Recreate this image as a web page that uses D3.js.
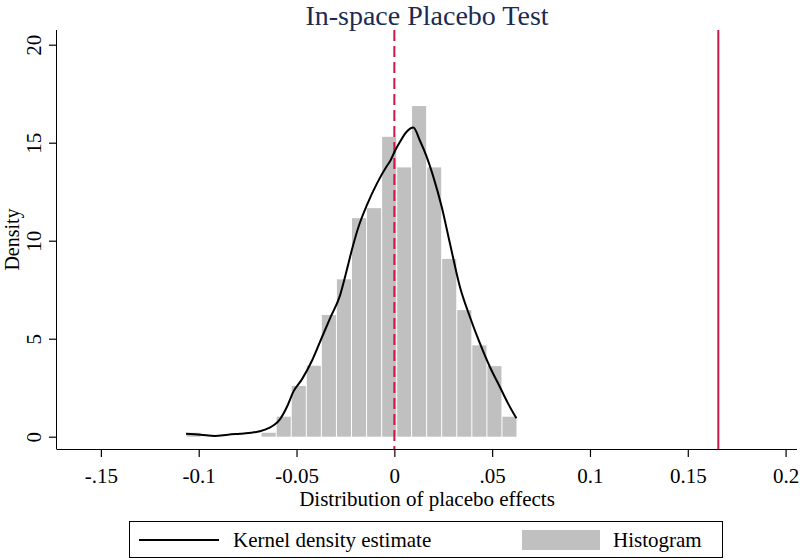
<!DOCTYPE html>
<html>
<head>
<meta charset="utf-8">
<script src="https://cdn.jsdelivr.net/npm/d3@7"></script>
<style>
  html, body { margin: 0; padding: 0; background: #fff; }
  svg { display: block; }
  text { font-family: "Liberation Serif", "Times New Roman", serif; }
</style>
</head>
<body>
<svg id="chart" width="800" height="560"></svg>
<script>
// ---------- data ----------
const binLeft = [-0.1065, -0.0988, -0.0911, -0.0834, -0.0758, -0.0681, -0.0604, -0.0527, -0.0450, -0.0373, -0.0296,
                 -0.0219, -0.0142, -0.0065, 0.0012, 0.0088, 0.0165, 0.0242, 0.0319, 0.0396, 0.0473, 0.0550];
const binRight = [-0.0988, -0.0911, -0.0834, -0.0758, -0.0681, -0.0604, -0.0527, -0.0450, -0.0373, -0.0296, -0.0219,
                  -0.0142, -0.0065, 0.0012, 0.0088, 0.0165, 0.0242, 0.0319, 0.0396, 0.0473, 0.0550, 0.0627];
const binDensity = [0.2, 0, 0, 0, 0, 0.2, 1.02, 2.59, 3.62, 6.21, 8.03,
                    11.15, 11.66, 15.3, 13.74, 16.87, 13.74, 9.07, 6.46, 4.66, 3.6, 1.02];

const kdeX = [-0.1065, -0.0990, -0.0917, -0.0850, -0.0789, -0.0730, -0.0687, -0.0640, -0.0610, -0.0584, -0.0550, -0.0516,
              -0.0471, -0.0420, -0.0369, -0.0326, -0.0278, -0.0243, -0.0218, -0.0180, -0.0141, -0.0090, -0.0039, -0.0022,
              0.0004, 0.0029, 0.0063, 0.0097, 0.0131, 0.0165, 0.0199, 0.0242, 0.0284, 0.0335, 0.0386, 0.0437,
              0.0488, 0.0539, 0.0581, 0.0624];
const kdeY = [0.15, 0.10, 0.03, 0.10, 0.15, 0.20, 0.28, 0.45, 0.63, 0.90, 1.50, 2.30,
              2.95, 3.90, 5.10, 6.10, 7.20, 8.50, 9.50, 10.80, 11.80, 12.90, 13.80, 14.05,
              14.60, 15.05, 15.56, 15.77, 15.10, 14.29, 13.27, 11.73, 9.87, 7.65, 6.12, 4.77,
              3.57, 2.55, 1.70, 0.94];

const xTickValues = [-0.15, -0.1, -0.05, 0, 0.05, 0.1, 0.15, 0.2];
const xTickLabels = ["-.15", "-0.1", "-0.05", "0", ".05", "0.1", "0.15", "0.2"];
const yTickValues = [0, 5, 10, 15, 20];
const yTickLabels = ["0", "5", "10", "15", "20"];

const zeroLine = 0;
const treatedEffect = 0.1656;

const titleText = "In-space Placebo Test";
const xTitle = "Distribution of placebo effects";
const yTitle = "Density";
const legendLabels = ["Kernel density estimate", "Histogram"];

// ---------- layout ----------
const svg = d3.select("#chart");
const plotLeft = 57, plotRight = 797, plotTop = 30, plotBottom = 449;

const x = d3.scaleLinear().domain([-0.15, 0.2]).range([100.9, 785.6]);
const y = d3.scaleLinear().domain([0, 20]).range([436.7, 44.7]);

const red = "#d0174a";
const gray = "#c0c0c0";

// histogram bars
svg.append("g").selectAll("rect")
  .data(binDensity)
  .join("rect")
  .attr("x", (d, i) => x(binLeft[i]) + 0.5)
  .attr("width", (d, i) => Math.max(0, x(binRight[i]) - x(binLeft[i]) - 1))
  .attr("y", d => y(d))
  .attr("height", d => y(0) - y(d))
  .attr("fill", gray);

// reference lines
svg.append("line")
  .attr("x1", x(zeroLine)).attr("x2", x(zeroLine))
  .attr("y1", plotTop).attr("y2", plotBottom)
  .attr("stroke", red).attr("stroke-width", 2)
  .attr("stroke-dasharray", "11,5");
svg.append("line")
  .attr("x1", x(treatedEffect)).attr("x2", x(treatedEffect))
  .attr("y1", plotTop).attr("y2", plotBottom)
  .attr("stroke", red).attr("stroke-width", 2);

// KDE line
const kdeData = kdeX.map((v, i) => [v, kdeY[i]]);
svg.append("path")
  .datum(kdeData)
  .attr("fill", "none")
  .attr("stroke", "#000")
  .attr("stroke-width", 2)
  .attr("stroke-linejoin", "round")
  .attr("d", d3.line().x(d => x(d[0])).y(d => y(d[1])).curve(d3.curveMonotoneX));

// x axis
const xAxis = d3.axisBottom(x)
  .tickValues(xTickValues)
  .tickFormat((d, i) => xTickLabels[i])
  .tickSize(8).tickPadding(11).tickSizeOuter(0);
const gx = svg.append("g").attr("transform", `translate(0,${plotBottom})`).call(xAxis);
gx.select(".domain").remove();
gx.append("line").attr("x1", plotLeft).attr("x2", plotRight).attr("y1", 0.5).attr("y2", 0.5)
  .attr("stroke", "#000").attr("stroke-width", 1);
gx.selectAll(".tick line").attr("stroke", "#000").attr("stroke-width", 1.2);
gx.selectAll(".tick text")
  .attr("font-family", "Liberation Serif, serif")
  .attr("font-size", 21).attr("fill", "#000");

// y axis
const yAxis = d3.axisLeft(y)
  .tickValues(yTickValues)
  .tickFormat((d, i) => yTickLabels[i])
  .tickSize(8).tickSizeOuter(0);
const gy = svg.append("g").attr("transform", `translate(${plotLeft},0)`).call(yAxis);
gy.select(".domain").remove();
gy.append("line").attr("x1", -0.5).attr("x2", -0.5).attr("y1", plotTop).attr("y2", plotBottom + 0.5)
  .attr("stroke", "#000").attr("stroke-width", 1);
gy.selectAll(".tick line").attr("stroke", "#000").attr("stroke-width", 1.2);
gy.selectAll(".tick text")
  .attr("font-family", "Liberation Serif, serif")
  .attr("font-size", 21).attr("fill", "#000")
  .attr("text-anchor", "middle")
  .attr("dy", null)
  .attr("x", null)
  .attr("transform", "translate(-16,0) rotate(-90)");

// titles
svg.append("text")
  .attr("x", 427).attr("y", 25)
  .attr("text-anchor", "middle")
  .attr("font-size", 28)
  .attr("fill", "#1c2b52")
  .text(titleText);

svg.append("text")
  .attr("x", 427).attr("y", 506)
  .attr("text-anchor", "middle")
  .attr("font-size", 21)
  .attr("fill", "#000")
  .text(xTitle);

svg.append("text")
  .attr("transform", `translate(19,${(plotTop + plotBottom) / 2}) rotate(-90)`)
  .attr("text-anchor", "middle")
  .attr("font-size", 20)
  .attr("fill", "#000")
  .text(yTitle);

// legend
const lg = svg.append("g");
lg.append("rect")
  .attr("x", 129.5).attr("y", 521.5).attr("width", 593).attr("height", 36)
  .attr("fill", "#fff").attr("stroke", "#000").attr("stroke-width", 1);
lg.append("line")
  .attr("x1", 139).attr("x2", 219).attr("y1", 540).attr("y2", 540)
  .attr("stroke", "#000").attr("stroke-width", 2);
lg.append("text")
  .attr("x", 233).attr("y", 547)
  .attr("font-size", 21).attr("fill", "#000")
  .text(legendLabels[0]);
lg.append("rect")
  .attr("x", 522).attr("y", 530).attr("width", 78).attr("height", 20)
  .attr("fill", gray);
lg.append("text")
  .attr("x", 613).attr("y", 547)
  .attr("font-size", 21).attr("fill", "#000")
  .text(legendLabels[1]);
</script>
</body>
</html>
